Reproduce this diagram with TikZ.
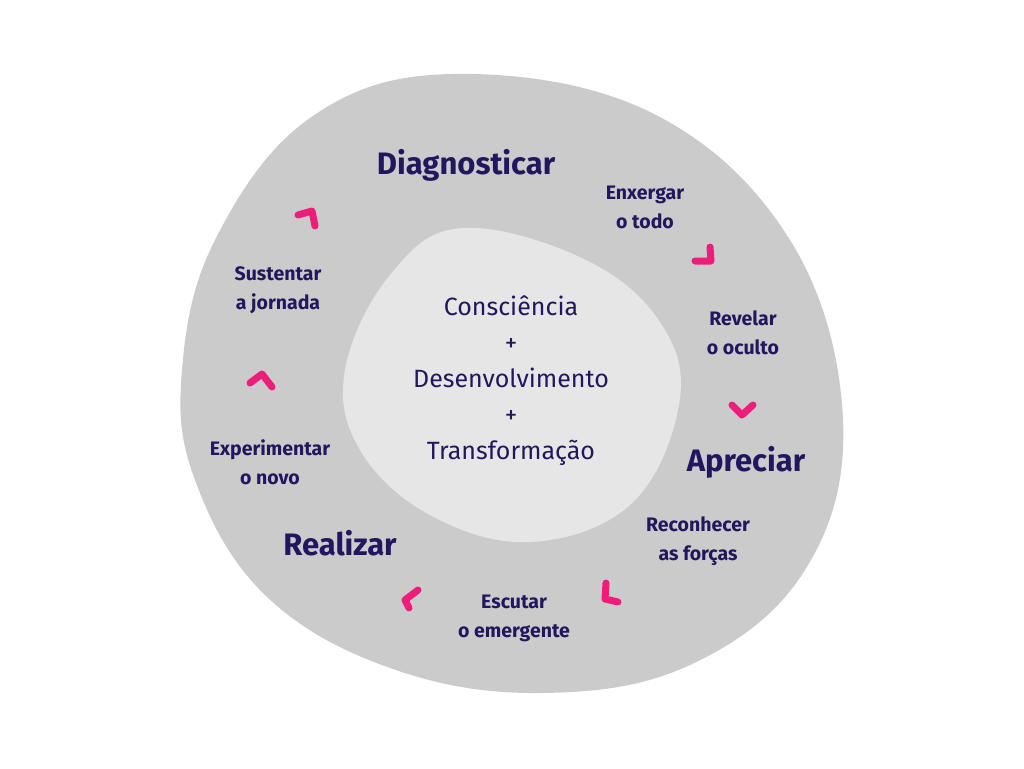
\documentclass[tikz,border=0pt]{standalone}
\usepackage{fontspec}
\setmainfont{Fira Sans}
\usetikzlibrary{positioning}
\definecolor{Outer}{HTML}{CBCBCB}
\definecolor{Inner}{HTML}{E6E6E6}
\definecolor{Ink}{HTML}{21175E}
\definecolor{Pink}{HTML}{EC1E79}
\tikzset{
  headtext/.style={align=center,font=\fontsize{31}{36}\selectfont\bfseries,text=Ink,inner sep=0pt},
  steptext/.style={align=center,font=\fontsize{19.5}{29}\selectfont\bfseries,text=Ink,inner sep=0pt},
  coretext/.style={align=center,font=\fontsize{25}{36}\selectfont,text=Ink,inner sep=0pt},
  chevron/.style={draw=Pink,line width=7pt,line cap=round,line join=round}
}
\begin{document}
\begin{tikzpicture}[x=1pt,y=-1pt]
  \useasboundingbox (0,0) rectangle (1024,768);
  % outer ring
  \fill[Outer] plot[smooth cycle,tension=0.65] coordinates {
    (453,74) (650,112) (790,240) (843,420) (805,570) (690,665) (540,693)
    (390,668) (265,595) (195,480) (182,370) (215,240) (310,118)};
  % inner core
  \fill[Inner] plot[smooth cycle,tension=0.65] coordinates {
    (463,228) (590,262) (665,330) (678,410) (630,505) (530,542)
    (430,515) (360,450) (345,370) (390,275)};
  \node[coretext] (core) at (511,381) {Consciência\\+\\Desenvolvimento\\+\\Transformação};
  % phases
  \node[headtext] (diag) at (466,165) {Diagnosticar};
  \node[headtext] (apre) at (746,462) {Apreciar};
  \node[headtext] (real) at (340,543) {Realizar};
  % steps
  \node[steptext] (todo) at (645,207) {Enxergar\\o todo};
  \node[steptext] (oculto) at (743,333) {Revelar\\o oculto};
  \node[steptext] (forcas) at (698,541) {Reconhecer\\as forças};
  \node[steptext] (emerg) at (514,618) {Escutar\\o emergente};
  \node[steptext] (novo) at (270,462) {Experimentar\\o novo};
  \node[steptext] (jornada) at (278,290) {Sustentar\\a jornada};
  % chevrons
  \draw[chevron] (298,215) -- (312,211) -- (315,226);
  \draw[chevron] (695,261) -- (711,261) -- (710,247);
  \draw[chevron] (732,405) -- (742,415) -- (753,405);
  \draw[chevron] (606,583) -- (605,599) -- (618,602);
  \draw[chevron] (418,590) -- (405,600) -- (409,608);
  \draw[chevron] (250,383) -- (262,374) -- (272,387);
\end{tikzpicture}
\end{document}
